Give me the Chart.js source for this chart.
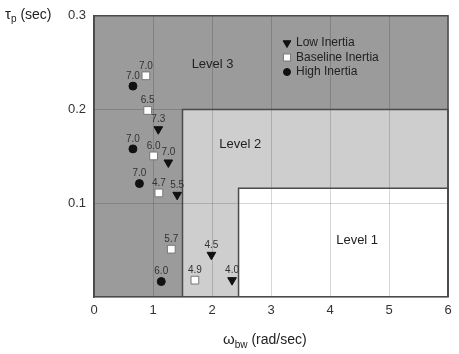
<!DOCTYPE html>
<html>
<head>
<meta charset="utf-8">
<script src="https://cdn.jsdelivr.net/npm/chart.js@4.4.1/dist/chart.umd.min.js"></script>
<style>
  html, body { margin: 0; padding: 0; background: #fff; }
  #wrap { width: 459px; height: 354px; }
</style>
</head>
<body>
<div id="wrap"><canvas id="chart"></canvas></div>
<script>
// Datos
const lowX = [1.09, 1.26, 1.41, 1.99, 2.34];
const lowY = [0.179, 0.1435, 0.109, 0.045, 0.018];
const lowLabels = ['7.3', '7.0', '5.5', '4.5', '4.0'];

const baseX = [0.88, 0.91, 1.01, 1.10, 1.31, 1.71];
const baseY = [0.236, 0.199, 0.1505, 0.111, 0.051, 0.018];
const baseLabels = ['7.0', '6.5', '6.0', '4.7', '5.7', '4.9'];

const highX = [0.66, 0.66, 0.77, 1.14];
const highY = [0.225, 0.158, 0.121, 0.0165];
const highLabels = ['7.0', '7.0', '7.0', '6.0'];

// Fronteras de los niveles
const level3X = [0, 0, 6, 6];
const level3Y = [0, 0.3, 0.3, 0];
const level2X = [1.5, 1.5, 6, 6];
const level2Y = [0, 0.2, 0.2, 0];
const level1X = [2.45, 2.45, 6, 6];
const level1Y = [0, 0.116, 0.116, 0];

const levelNames = ['Level 3', 'Level 2', 'Level 1'];
const levelTextX = [2.01, 2.48, 4.46];
const levelTextY = [0.248, 0.163, 0.06];

const seriesNames = ['Low Inertia', 'Baseline Inertia', 'High Inertia'];

const FONT = 'Arial, "Liberation Sans", sans-serif';
const pts = (xs, ys) => xs.map((x, i) => ({ x, y: ys[i] }));

const regionDataset = (xs, ys, color, order) => ({
  data: pts(xs, ys),
  showLine: true,
  fill: 'origin',
  backgroundColor: color,
  borderColor: '#4a4a4a',
  borderWidth: 1.5,
  pointRadius: 0,
  clip: 3,
  order
});

// Etiquetas de puntos, textos de niveles, leyenda y títulos
const annotations = {
  id: 'annotations',
  afterDatasetsDraw(chart) {
    const { ctx, scales: { x, y } } = chart;
    ctx.save();
    ctx.fillStyle = '#333';
    ctx.font = '10px ' + FONT;
    ctx.textAlign = 'center';
    ctx.textBaseline = 'middle';
    [0, 1, 2].forEach(di => {
      const ds = chart.data.datasets[di];
      ds.data.forEach((p, i) => {
        ctx.fillText(ds.pointLabels[i], x.getPixelForValue(p.x), y.getPixelForValue(p.y) - 10);
      });
    });

    ctx.fillStyle = '#222';
    ctx.font = '13px ' + FONT;
    levelNames.forEach((name, i) => {
      ctx.fillText(name, x.getPixelForValue(levelTextX[i]), y.getPixelForValue(levelTextY[i]));
    });

    // Leyenda dentro del área
    const lx = 287, ly = 43, step = 14.5;
    [0, 1, 2].forEach(di => {
      const ds = chart.data.datasets[di];
      const cy = ly + di * step;
      ctx.fillStyle = ds.backgroundColor;
      ctx.strokeStyle = ds.borderColor;
      ctx.lineWidth = ds.borderWidth;
      Chart.helpers.drawPoint(ctx, {
        pointStyle: ds.pointStyle,
        rotation: ds.rotation || 0,
        radius: ds.pointRadius - 0.5,
        borderWidth: ds.borderWidth
      }, lx, cy);
      ctx.fillStyle = '#222';
      ctx.font = '12px ' + FONT;
      ctx.textAlign = 'left';
      ctx.fillText(seriesNames[di], lx + 9, cy);
    });
    ctx.restore();

    // Títulos de ejes con subíndice
    ctx.save();
    ctx.fillStyle = '#222';
    ctx.textBaseline = 'alphabetic';
    ctx.textAlign = 'left';
    let tx = 5;
    ctx.font = '15px ' + FONT;
    ctx.fillText('τ', tx, 19);
    tx += ctx.measureText('τ').width;
    ctx.font = '10px ' + FONT;
    ctx.fillText('p', tx, 22);
    tx += ctx.measureText('p').width;
    ctx.font = '14px ' + FONT;
    ctx.fillText(' (sec)', tx, 19);

    tx = 223;
    ctx.font = '15px ' + FONT;
    ctx.fillText('ω', tx, 344);
    tx += ctx.measureText('ω').width;
    ctx.font = '10px ' + FONT;
    ctx.fillText('bw', tx, 348);
    tx += ctx.measureText('bw').width;
    ctx.font = '14px ' + FONT;
    ctx.fillText(' (rad/sec)', tx, 344);
    ctx.restore();
  }
};

new Chart(document.getElementById('chart'), {
  type: 'scatter',
  data: {
    datasets: [
      {
        label: seriesNames[0],
        data: pts(lowX, lowY),
        pointLabels: lowLabels,
        pointStyle: 'triangle',
        rotation: 180,
        pointRadius: 5,
        backgroundColor: '#111',
        borderColor: '#111',
        borderWidth: 1,
        order: 0
      },
      {
        label: seriesNames[1],
        data: pts(baseX, baseY),
        pointLabels: baseLabels,
        pointStyle: 'rect',
        pointRadius: 5.5,
        backgroundColor: '#fff',
        borderColor: '#777',
        borderWidth: 1,
        order: 0
      },
      {
        label: seriesNames[2],
        data: pts(highX, highY),
        pointLabels: highLabels,
        pointStyle: 'circle',
        pointRadius: 4,
        backgroundColor: '#111',
        borderColor: '#111',
        borderWidth: 1,
        order: 0
      },
      regionDataset(level3X, level3Y, '#9b9b9b', 5),
      regionDataset(level2X, level2Y, '#cecece', 4),
      regionDataset(level1X, level1Y, '#ffffff', 3)
    ]
  },
  options: {
    responsive: true,
    maintainAspectRatio: false,
    animation: false,
    layout: { padding: { top: 10, right: 11, left: 0, bottom: 0 } },
    plugins: {
      legend: { display: false },
      tooltip: { enabled: false },
      filler: { drawTime: 'beforeDraw' }
    },
    scales: {
      x: {
        type: 'linear',
        min: 0,
        max: 6,
        ticks: {
          stepSize: 1,
          color: '#333',
          font: { family: FONT, size: 13 },
          padding: 6,
          maxRotation: 0
        },
        grid: { color: 'rgba(0,0,0,0.16)', drawTicks: false },
        border: { color: '#4a4a4a', width: 1.5 },
        afterFit: s => { s.height = 57; }
      },
      y: {
        type: 'linear',
        min: 0,
        max: 0.3,
        ticks: {
          stepSize: 0.1,
          color: '#333',
          font: { family: FONT, size: 13 },
          padding: 8,
          callback: v => (v === 0 ? '' : v.toFixed(1))
        },
        grid: { color: 'rgba(0,0,0,0.16)', drawTicks: false },
        border: { color: '#4a4a4a', width: 1.5 },
        afterFit: s => { s.width = 94; }
      }
    }
  },
  plugins: [annotations]
});
</script>
</body>
</html>
